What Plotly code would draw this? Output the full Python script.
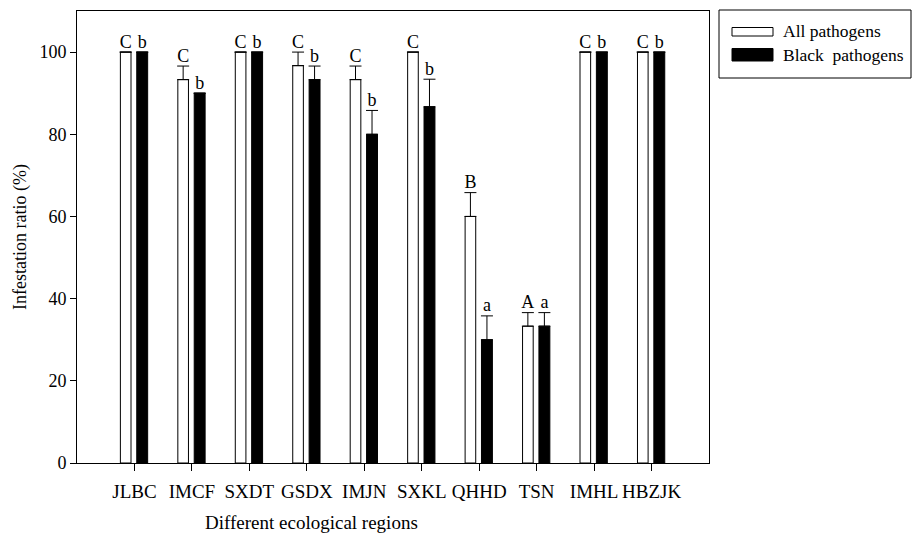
import plotly.graph_objects as go

regions = ["JLBC", "IMCF", "SXDT", "GSDX", "IMJN", "SXKL", "QHHD", "TSN", "IMHL", "HBZJK"]
all_vals = [100, 93.3, 100, 96.7, 93.3, 100, 60, 33.3, 100, 100]
all_err = [0, 3.3, 0, 3.3, 3.3, 0, 5.8, 3.3, 0, 0]
all_letters = ["C", "C", "C", "C", "C", "C", "B", "A", "C", "C"]
black_vals = [100, 90, 100, 93.3, 80, 86.7, 30, 33.3, 100, 100]
black_err = [0, 0, 0, 3.3, 5.8, 6.7, 5.8, 3.3, 0, 0]
black_letters = ["b", "b", "b", "b", "b", "b", "a", "a", "b", "b"]

FONT = "Liberation Serif"
idx = list(range(len(regions)))
W_OFF, W_W = -0.245, 0.185
B_OFF, B_W = 0.04, 0.19

L, R, T, B = 77, 203, 11, 71
PW, PH = 912 - L - R, 534 - T - B


def px(x):
    return (x - L) / PW


def py(y):
    return 1 - (y - T) / PH


fig = go.Figure()
fig.add_trace(go.Bar(
    x=idx, y=all_vals, offset=W_OFF, width=W_W, name="All pathogens",
    marker=dict(color="white", line=dict(color="black", width=1)),
    error_y=dict(type="data", array=all_err, arrayminus=[0]*len(idx), symmetric=False,
                 color="black", thickness=1, width=6),
    showlegend=False,
))
fig.add_trace(go.Bar(
    x=idx, y=black_vals, offset=B_OFF, width=B_W, name="Black pathogens",
    marker=dict(color="black", line=dict(color="black", width=1)),
    error_y=dict(type="data", array=black_err, arrayminus=[0]*len(idx), symmetric=False,
                 color="black", thickness=1, width=6),
    showlegend=False,
))
fig.add_trace(go.Scatter(
    x=[i + W_OFF + W_W / 2 for i in idx], y=[v + e for v, e in zip(all_vals, all_err)],
    mode="text", text=all_letters, textposition="top center",
    textfont=dict(family=FONT, size=18, color="black"), showlegend=False, hoverinfo="skip",
))
fig.add_trace(go.Scatter(
    x=[i + B_OFF + B_W / 2 for i in idx], y=[v + e for v, e in zip(black_vals, black_err)],
    mode="text", text=black_letters, textposition="top center",
    textfont=dict(family=FONT, size=18, color="black"), showlegend=False, hoverinfo="skip",
))

shapes = [
    dict(type="rect", xref="paper", yref="paper", x0=px(719), x1=px(911),
         y0=py(78), y1=py(10), line=dict(color="black", width=1), fillcolor="white"),
    dict(type="rect", xref="paper", yref="paper", x0=px(732), x1=px(773),
         y0=py(36), y1=py(27.5), line=dict(color="black", width=1), fillcolor="white"),
    dict(type="rect", xref="paper", yref="paper", x0=px(732), x1=px(773),
         y0=py(61), y1=py(48.5), line=dict(color="black", width=1), fillcolor="black"),
]
annotations = [
    dict(xref="paper", yref="paper", x=px(781), y=py(31.5), text="All pathogens",
         showarrow=False, xanchor="left", yanchor="middle", font=dict(family=FONT, size=17.5, color="black")),
    dict(xref="paper", yref="paper", x=px(781), y=py(55), text="Black&nbsp;&nbsp;pathogens",
         showarrow=False, xanchor="left", yanchor="middle", font=dict(family=FONT, size=17.5, color="black")),
    dict(xref="paper", yref="paper", x=px(20), y=py(237), text="Infestation ratio (%)", textangle=-90,
         showarrow=False, xanchor="center", yanchor="middle", font=dict(family=FONT, size=18, color="black")),
    dict(xref="paper", yref="paper", x=px(311), y=py(522), text="Different ecological regions",
         showarrow=False, xanchor="center", yanchor="middle", font=dict(family=FONT, size=19, color="black")),
]

fig.update_layout(
    width=912, height=534,
    margin=dict(l=L, r=R, t=T, b=B),
    paper_bgcolor="white", plot_bgcolor="white",
    barmode="overlay",
    font=dict(family=FONT, size=18, color="black"),
    shapes=shapes, annotations=annotations,
    xaxis=dict(range=[-1, 10], tickmode="array", tickvals=idx, ticktext=regions,
               showline=True, linecolor="black", linewidth=1, mirror=True, automargin=False,
               ticks="outside", ticklen=7, tickcolor="black", showgrid=False, zeroline=False,
               ticklabelstandoff=4, tickfont=dict(family=FONT, size=19)),
    yaxis=dict(range=[0, 110], tickvals=[0, 20, 40, 60, 80, 100], automargin=False,
               showline=True, linecolor="black", linewidth=1, mirror=True,
               ticks="outside", ticklen=6, tickcolor="black", showgrid=False, zeroline=False,
               tickfont=dict(family=FONT, size=18)),
)

fig.write_html("out.html", config={"displayModeBar": False},
               post_script="document.body.style.margin='0';document.body.style.overflow='hidden';")
